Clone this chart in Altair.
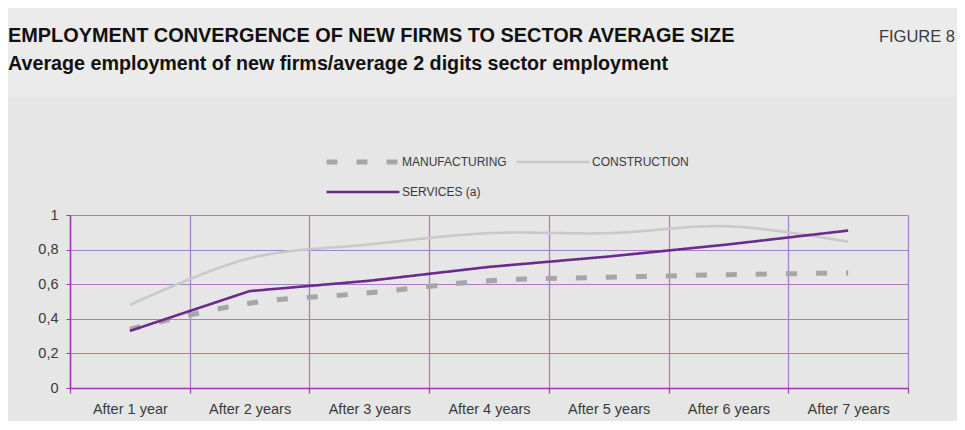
import altair as alt
import pandas as pd

# ---- data ----
years = ["After 1 year", "After 2 years", "After 3 years", "After 4 years",
         "After 5 years", "After 6 years", "After 7 years"]
manufacturing = [0.34, 0.49, 0.55, 0.62, 0.64, 0.655, 0.665]
construction = [0.48, 0.75, 0.83, 0.895, 0.895, 0.935, 0.845]
services = [0.33, 0.56, 0.62, 0.70, 0.76, 0.83, 0.91]
series = ["MANUFACTURING", "SERVICES (a)", "CONSTRUCTION"]  # legend fills column by column
y_ticks = [0, 0.2, 0.4, 0.6, 0.8, 1]

title_text = "EMPLOYMENT CONVERGENCE OF NEW FIRMS TO SECTOR AVERAGE SIZE"
subtitle_text = "Average employment of new firms/average 2 digits sector employment"
figure_text = "FIGURE 8"

# ---- styles ----
colors = ["#a6a6a8", "#6a2a8e", "#c9c9c9"]
dashes = [[11, 19], [1, 0], [1, 0]]
widths = [5, 2.6, 2.6]
FONT = "Liberation Sans"
TXT = "#3a3a3a"
GRID = "#a97fc3"
AXIS = "#9c3bae"

rows = []
for name, vals in zip(["MANUFACTURING", "CONSTRUCTION", "SERVICES (a)"],
                      [manufacturing, construction, services]):
    for yr, v in zip(years, vals):
        rows.append({"year": yr, "value": v, "series": name})
df = pd.DataFrame(rows)

legend = alt.Legend(
    title=None, orient="none", legendX=254, legendY=-60, columns=2,
    symbolType="stroke", symbolSize=5329, clipHeight=14, rowPadding=16,
    columnPadding=7, labelOffset=0, padding=0,
    labelFont=FONT, labelFontSize=12, labelColor=TXT,
)

x_enc = alt.X(
    "year:N", sort=years, bandPosition=0.5,
    scale=alt.Scale(type="band", paddingInner=0, paddingOuter=0),
    axis=alt.Axis(
        title=None, labelAngle=0, tickBand="extent", grid=True,
        gridColor=GRID, gridWidth=1.3, gridOpacity=1, domainColor=AXIS, domainWidth=1.5,
        tickColor=AXIS, tickSize=5, tickWidth=1.2,
        labelFont=FONT, labelFontSize=14.5, labelColor=TXT, labelPadding=9,
    ),
)
y_enc = alt.Y(
    "value:Q", scale=alt.Scale(domain=[0, 1]),
    axis=alt.Axis(
        title=None, values=y_ticks, format=".1~f",
        labelExpr="replace(datum.label, '.', ',')",
        grid=True, gridColor=GRID, gridWidth=1.2, domainColor=AXIS, domainWidth=1.5,
        tickColor=AXIS, tickSize=4, labelPadding=8,
        labelFont=FONT, labelFontSize=14.5, labelColor=TXT,
    ),
)
color_enc = alt.Color("series:N", scale=alt.Scale(domain=series, range=colors), legend=legend)
dash_enc = alt.StrokeDash("series:N", scale=alt.Scale(domain=series, range=dashes), legend=legend)
width_enc = alt.StrokeWidth("series:N", scale=alt.Scale(type="ordinal", domain=series, range=widths),
                            legend=legend)

base = alt.Chart(df).encode(x=x_enc, y=y_enc, color=color_enc,
                            strokeDash=dash_enc, strokeWidth=width_enc)

smooth = base.transform_filter(
    alt.FieldOneOfPredicate(field="series", oneOf=["CONSTRUCTION", "MANUFACTURING"])
).mark_line(interpolate="catmull-rom", strokeCap="butt")

straight = base.transform_filter(
    alt.FieldEqualPredicate(field="series", equal="SERVICES (a)")
).mark_line(interpolate="linear", strokeCap="butt")

one = pd.DataFrame({"k": [0]})
band = alt.Chart(one).mark_rect(color="#ebebeb").encode(
    x=alt.value(-62), x2=alt.value(887), y=alt.value(-207), y2=alt.value(-118)
)
title = alt.Chart(one).mark_text(
    text=title_text, font=FONT, fontSize=19.9, fontWeight="bold", color="#111111",
    align="left", baseline="alphabetic"
).encode(x=alt.value(-62), y=alt.value(-173))
subtitle = alt.Chart(one).mark_text(
    text=subtitle_text, font=FONT, fontSize=19.7, fontWeight="bold", color="#111111",
    align="left", baseline="alphabetic"
).encode(x=alt.value(-62), y=alt.value(-145))
figure = alt.Chart(one).mark_text(
    text=figure_text, font=FONT, fontSize=16.5, color=TXT,
    align="right", baseline="alphabetic"
).encode(x=alt.value(885), y=alt.value(-173))

chart = alt.layer(band, title, subtitle, figure, smooth, straight).properties(
    width=838, height=173,
    padding={"left": 62, "top": 207, "right": 49, "bottom": 33},
    autosize=alt.AutoSizeParams(type="none"),
).configure(background="#e5e6e5").configure_view(
    stroke=None
).configure_axis(
    gridColor=GRID, domainColor=AXIS, tickColor=AXIS
)

chart.save("out.html", embed_options={"renderer": "svg", "actions": False})
